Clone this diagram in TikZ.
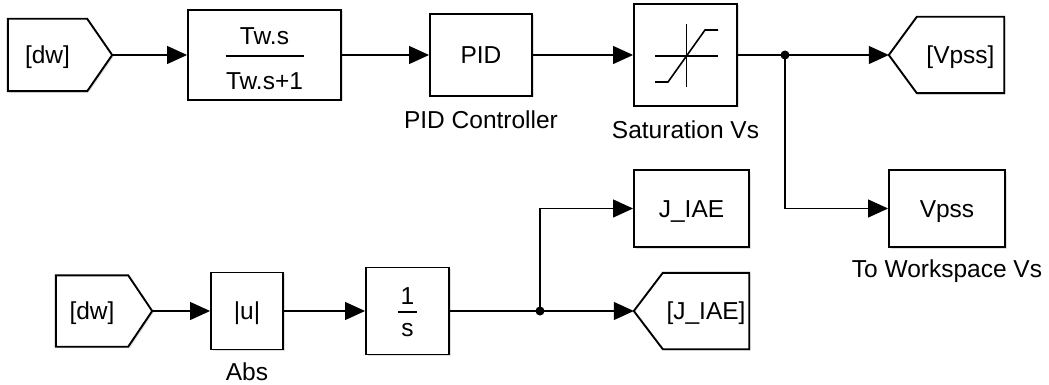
\documentclass[tikz,border=0pt]{standalone}
\usepackage{fontspec}
\setmainfont{Liberation Sans}
\usetikzlibrary{positioning,arrows.meta,calc,shadows,backgrounds}
\tikzset{
  >={Triangle[length=20pt,width=18pt]},
}

\begin{document}
\begin{tikzpicture}[
  x=1pt, y=-1pt,
  font=\fontsize{24.5}{28}\selectfont,
  block/.style={draw, line width=1.9pt, fill=white, inner sep=0pt, text height=17pt, text depth=0pt,
    drop shadow={shadow xshift=1.5pt, shadow yshift=-1.5pt, opacity=0.25}},
  tagbody/.style={inner sep=0pt, text height=17pt, text depth=0pt},
  tagline/.style={draw, line width=1.9pt, fill=white,
    drop shadow={shadow xshift=1.5pt, shadow yshift=-1.5pt, opacity=0.25}},
  wire/.style={line width=1.2pt},
  lbl/.style={inner sep=0pt, text height=17pt, text depth=5pt},
  frac/.style={anchor=base, inner sep=0pt},
]
\useasboundingbox (0,0) rectangle (1049,385);

% upper chain
\node[tagbody, minimum width=79pt, minimum height=72pt] (fromA) at (47.5,55) {[dw]};
\coordinate (fromAtip) at ($(fromA.east)+(25,0)$);
\node[block, minimum width=153pt, minimum height=90pt] (tf) at (264.5,55) {};
\node[frac] (tfnum) at ($(tf.center)+(0,-10)$) {Tw.s};
\node[frac] (tfden) at ($(tf.center)+(0,35)$) {Tw.s+1};
\draw[line width=2pt] ($(tf.center)+(-39,1.5)$) -- ($(tf.center)+(39,1.5)$);
\node[block, minimum width=102pt, minimum height=82pt] (pid) at (481,55) {PID};
\node[lbl, below=14pt of pid] (pidlbl) {PID Controller};
\node[block, minimum width=103pt, minimum height=102pt] (sat) at (685.5,55) {};
\node[lbl, below=14pt of sat] (satlbl) {Saturation Vs};
\draw[line width=1.6pt] ($(sat.center)+(-30.5,1)$) -- ($(sat.center)+(32.5,1)$)
  ($(sat.center)+(1,-30.5)$) -- ($(sat.center)+(1,32.5)$);
\draw[line width=1.6pt] ($(sat.center)+(-30.5,27)$) -- ($(sat.center)+(-17.5,27)$)
  -- ($(sat.center)+(19.5,-25)$) -- ($(sat.center)+(32.5,-25)$);
\node[tagbody, minimum width=87pt, minimum height=76pt] (gotoV) at (960.5,55) {[Vpss]};
\coordinate (gotoVtip) at ($(gotoV.west)+(-28,0)$);
\node[block, minimum width=116pt, minimum height=77pt] (ws) at (947,208.5) {Vpss};
\node[lbl, below=12pt of ws] (wslbl) {To Workspace Vs};
\coordinate (vdot) at (785,55);

% lower chain
\node[tagbody, minimum width=72pt, minimum height=71pt] (fromB) at (92,311) {[dw]};
\coordinate (fromBtip) at ($(fromB.east)+(24,0)$);
\node[block, minimum width=72pt, minimum height=77pt] (abs) at (247,311) {|u|};
\node[lbl, below=13pt of abs] (abslbl) {Abs};
\node[block, minimum width=83pt, minimum height=87pt] (integ) at (407.5,311) {};
\node[frac] (intnum) at ($(integ.center)+(0,-7)$) {1};
\node[frac] (intden) at ($(integ.center)+(0,25)$) {s};
\draw[line width=2pt] ($(integ.center)+(-9.5,1)$) -- ($(integ.center)+(9.5,1)$);
\node[block, minimum width=115pt, minimum height=77pt] (jws) at (691.5,208.5) {J\_IAE};
\node[tagbody, minimum width=86pt, minimum height=76pt] (gotoJ) at (706,311) {[J\_IAE]};
\coordinate (gotoJtip) at ($(gotoJ.west)+(-29,0)$);
\coordinate (jdot) at (540,311);

\begin{scope}[on background layer]
\draw[tagline] (fromA.north west) -- (fromA.north east) -- (fromAtip)
  -- (fromA.south east) -- (fromA.south west) -- cycle;
\draw[tagline] (gotoV.north west) -- (gotoV.north east) -- (gotoV.south east)
  -- (gotoV.south west) -- (gotoVtip) -- cycle;
\draw[tagline] (fromB.north west) -- (fromB.north east) -- (fromBtip)
  -- (fromB.south east) -- (fromB.south west) -- cycle;
\draw[tagline] (gotoJ.north west) -- (gotoJ.north east) -- (gotoJ.south east)
  -- (gotoJ.south west) -- (gotoJtip) -- cycle;
\end{scope}

% signals
\draw[wire,->] (fromAtip) -- (tf.west);
\draw[wire,->] (tf.east) -- (pid.west);
\draw[wire,->] (pid.east) -- (sat.west);
\draw[wire] (sat.east) -- (vdot);
\draw[wire,->] (vdot) -- (gotoVtip);
\draw[wire,->] (vdot) |- (ws.west);
\fill (vdot) circle (4.5pt);

\draw[wire,->] (fromBtip) -- (abs.west);
\draw[wire,->] (abs.east) -- (integ.west);
\draw[wire] (integ.east) -- (jdot);
\draw[wire,->] (jdot) -- (gotoJtip);
\draw[wire,->] (jdot) |- (jws.west);
\fill (jdot) circle (4.5pt);
\end{tikzpicture}
\end{document}
